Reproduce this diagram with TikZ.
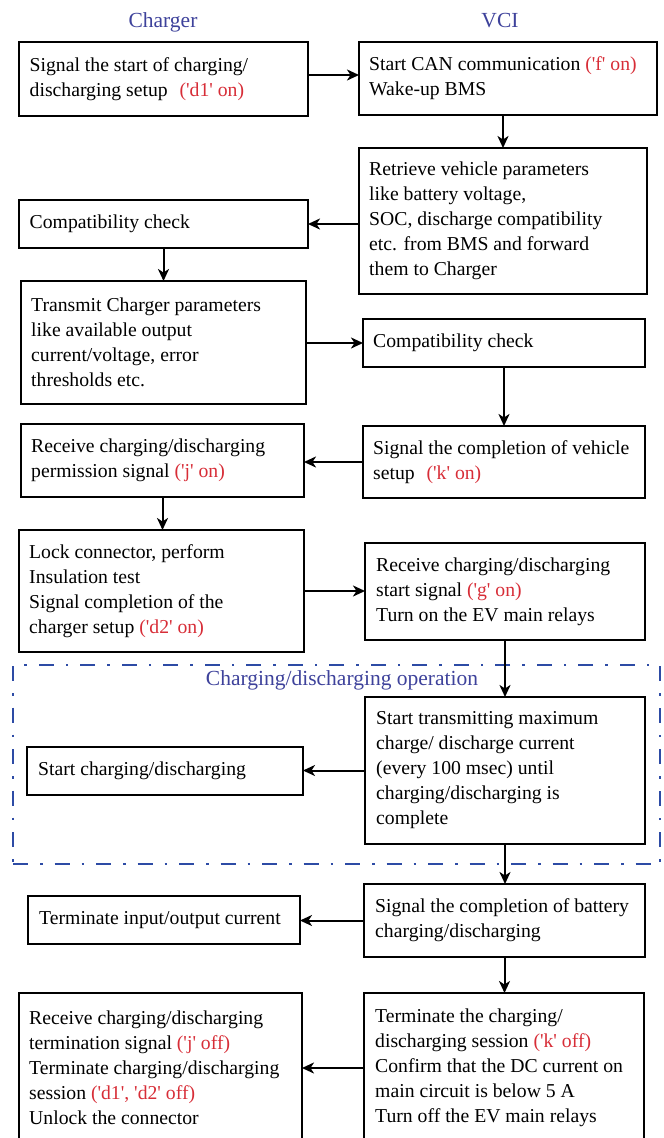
\documentclass[tikz,border=0pt]{standalone}
\usepackage{fontspec}
\setmainfont{Liberation Serif}
\usetikzlibrary{arrows.meta}
\definecolor{sigred}{RGB}{215,45,55}
\definecolor{hdblue}{RGB}{62,66,155}
\definecolor{dashblue}{RGB}{45,75,165}
\newcommand\rd[1]{\textcolor{sigred}{#1}}
\newcommand\sq{\textquotesingle}
\tikzset{
  box/.style={draw, line width=2pt, inner sep=0pt, outer sep=0pt},
  txt/.style={anchor=west, align=left, inner sep=0pt, font=\fontsize{19.7}{25}\selectfont},
  arr/.style={line width=2pt, -{Stealth[length=12pt,width=11pt,inset=3.5pt]}},
  hd/.style={anchor=base, text=hdblue, inner sep=0pt, font=\fontsize{21.5}{25}\selectfont},
  opbox/.style={draw=dashblue, line width=2.8pt, dash pattern=on 15pt off 12pt on 2.5pt off 12pt, inner sep=0pt}
}
\begin{document}
\begin{tikzpicture}[x=1pt,y=1pt]
\useasboundingbox (0,0) rectangle (664,-1138);
% titles
\node[hd] (tc) at (163,-27) {Charger};
\node[hd] (tv) at (500,-27) {VCI};
% operation frame
\node[opbox, minimum width=647pt, minimum height=199pt] (op) at (336.5,-764.5) {};
\node[hd] (opl) at (342,-685) {Charging/discharging operation};
% boxes
\node[box, minimum width=289pt, minimum height=74pt] (c1) at (163.5,-79) {};
\node[txt] (c1t) at ([xshift=10.5pt]c1.west) {Signal the start of charging/\\discharging setup\hspace{0.6em}\rd{(\sq d1\sq{} on)}};
\node[box, minimum width=298pt, minimum height=73pt] (v1) at (508,-78.5) {};
\node[txt] (v1t) at ([xshift=10pt]v1.west) {Start CAN communication \rd{(\sq f\sq{} on)}\\Wake-up BMS};
\node[box, minimum width=288pt, minimum height=146pt] (v2) at (503,-221) {};
\node[txt] (v2t) at ([xshift=10pt]v2.west) {Retrieve vehicle parameters\\like battery voltage,\\SOC, discharge compatibility\\etc. from BMS and forward\\them to Charger};
\node[box, minimum width=289pt, minimum height=48pt] (c2) at (163.5,-224) {};
\node[txt] (c2t) at ([xshift=10.5pt]c2.west) {Compatibility check};
\node[box, minimum width=285pt, minimum height=123pt] (c3) at (163.5,-342.5) {};
\node[txt] (c3t) at ([xshift=10pt]c3.west) {Transmit Charger parameters\\like available output\\current/voltage, error\\thresholds etc.};
\node[box, minimum width=282pt, minimum height=48pt] (v3) at (504,-343) {};
\node[txt] (v3t) at ([xshift=10pt]v3.west) {Compatibility check};
\node[box, minimum width=282pt, minimum height=72pt] (v4) at (504,-462) {};
\node[txt] (v4t) at ([xshift=10pt]v4.west) {Signal the completion of vehicle\\setup\hspace{0.6em}\rd{(\sq k\sq{} on)}};
\node[box, minimum width=283pt, minimum height=73pt] (c4) at (162.5,-460.5) {};
\node[txt] (c4t) at ([xshift=10pt]c4.west) {Receive charging/discharging\\permission signal \rd{(\sq j\sq{} on)}};
\node[box, minimum width=285pt, minimum height=122pt] (c5) at (161.5,-591) {};
\node[txt] (c5t) at ([xshift=10pt]c5.west) {Lock connector, perform\\Insulation test\\Signal completion of the\\charger setup \rd{(\sq d2\sq{} on)}};
\node[box, minimum width=280pt, minimum height=97pt] (v5) at (505,-591.5) {};
\node[txt] (v5t) at ([xshift=11pt]v5.west) {Receive charging/discharging\\start signal \rd{(\sq g\sq{} on)}\\Turn on the EV main relays};
\node[box, minimum width=280pt, minimum height=147pt] (v6) at (505,-770.5) {};
\node[txt] (v6t) at ([xshift=11pt]v6.west) {Start transmitting maximum\\charge/ discharge current\\(every 100 msec) until\\charging/discharging is\\complete};
\node[box, minimum width=276pt, minimum height=48pt] (sc) at (165,-771) {};
\node[txt] (sct) at ([xshift=11pt]sc.west) {Start charging/discharging};
\node[box, minimum width=281pt, minimum height=73pt] (v7) at (504.5,-920.5) {};
\node[txt] (v7t) at ([xshift=11pt]v7.west) {Signal the completion of battery\\charging/discharging};
\node[box, minimum width=272pt, minimum height=48pt] (c7) at (164,-920) {};
\node[txt] (c7t) at ([xshift=11pt]c7.west) {Terminate input/output current};
\node[box, minimum width=280pt, minimum height=150pt] (v8) at (504,-1068) {};
\node[txt] (v8t) at ([xshift=11pt]v8.west) {Terminate the charging/\\discharging session \rd{(\sq k\sq{} off)}\\Confirm that the DC current on\\main circuit is below 5 A\\Turn off the EV main relays};
\node[box, minimum width=283pt, minimum height=150pt] (c8) at (160.5,-1068) {};
\node[txt] (c8t) at ([xshift=10pt]c8.west) {Receive charging/discharging\\termination signal \rd{(\sq j\sq{} off)}\\Terminate charging/discharging\\session \rd{(\sq d1\sq, \sq d2\sq{} off)}\\Unlock the connector};
% connectors
\draw[arr] ([yshift=4pt]c1.east) -- ([yshift=4pt]c1.east -| v1.west);
\draw[arr] (v2.north |- v1.south) -- (v2.north);
\draw[arr] (v2.west |- c2.east) -- (c2.east);
\draw[arr] (c2.south) -- (c3.north);
\draw[arr] (c3.east |- v3.west) -- (v3.west);
\draw[arr] (v3.south) -- (v4.north);
\draw[arr] (v4.west) -- (v4.west -| c4.east);
\draw[arr] (c4.south) -- (c4.south |- c5.north);
\draw[arr] (c5.east) -- (c5.east -| v5.west);
\draw[arr] (v5.south) -- (v6.north);
\draw[arr] (v6.west) -- (v6.west -| sc.east);
\draw[arr] (v6.south) -- (v6.south |- v7.north);
\draw[arr] (v7.west) -- (v7.west -| c7.east);
\draw[arr] (v7.south) -- (v7.south |- v8.north);
\draw[arr] (v8.west) -- (v8.west -| c8.east);
\end{tikzpicture}
\end{document}
